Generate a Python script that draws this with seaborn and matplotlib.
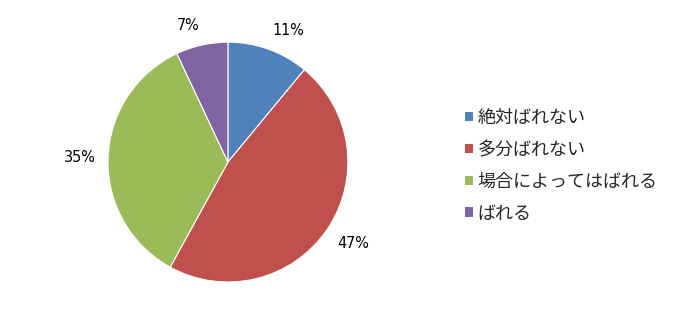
import matplotlib
matplotlib.use("Agg")
import numpy as np
import matplotlib.pyplot as plt
import seaborn as sns
from matplotlib.patches import Patch

categories = ["絶対ばれない", "多分ばれない", "場合によってはばれる", "ばれる"]
values = [11, 47, 35, 7]
colors = ["#4F81BD", "#C0504D", "#9BBB59", "#8064A2"]

sns.set_theme(style="white")
plt.rcParams['font.family'] = ['Noto Sans CJK JP', 'DejaVu Sans']

fig = plt.figure(figsize=(6.74, 3.25), dpi=100)
ax = fig.add_axes([0.1602, 0.1323, 0.356, 0.738])
wedges, texts, autotexts = ax.pie(
    values, colors=colors, startangle=90, counterclock=False,
    autopct=lambda p: f"{p:.0f}%", pctdistance=1.1, radius=1,
    wedgeprops=dict(edgecolor="white", linewidth=0.8),
    textprops=dict(fontsize=11.5, color="black", family='DejaVu Sans', fontstretch='condensed'))

# Excel-style outside-end label alignment
for w, t in zip(wedges, autotexts):
    ang = np.deg2rad((w.theta1 + w.theta2) / 2)
    c, s = np.cos(ang), np.sin(ang)
    t.set_position((1.1 * c, 1.1 * s))
    t.set_ha('left' if c > 0 else 'right')
    t.set_va('bottom' if s > 0.3 else ('top' if s < -0.3 else 'center'))

ax.set_xlim(-1, 1)
ax.set_ylim(-1, 1)
ax.set_aspect("equal")
ax.axis("off")

handles = [Patch(facecolor=c, edgecolor="none") for c in colors]
fig.legend(handles, categories, loc="upper left",
           bbox_to_anchor=(465 / 674, 1 - 109 / 325), frameon=False,
           fontsize=13, handlelength=0.45, handleheight=0.45,
           handletextpad=0.25, labelspacing=0.77, borderpad=0, borderaxespad=0)

fig.savefig("out.png", dpi=100, facecolor="white")
